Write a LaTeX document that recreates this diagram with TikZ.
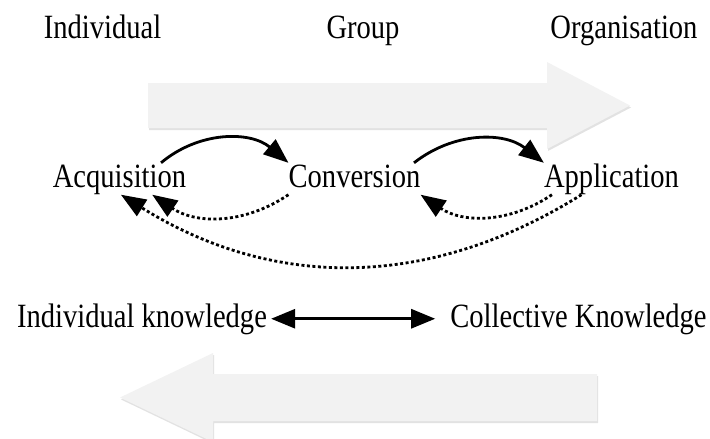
\documentclass[tikz,border=0pt]{standalone}
\usepackage{fontspec}
\setmainfont{Liberation Serif}
\usetikzlibrary{arrows.meta,shadows}

\definecolor{arrowgray}{HTML}{F2F2F2}
\newcommand{\lbltext}[1]{\scalebox{0.84}[1]{#1}}

\tikzset{
  lbl/.style={font=\fontsize{34}{40}\selectfont, inner sep=0pt,
    text height=24pt, text depth=7.5pt, anchor=base},
  bigarrow/.style={fill=arrowgray, draw=none,
    drop shadow={shadow xshift=1pt, shadow yshift=-2pt, opacity=0.25, fill=black!45}},
  flowtip/.style={-{Triangle[length=25pt,width=19pt]}},
  flow/.style={flowtip, line width=2.8pt},
  back/.style={flowtip, line width=2.8pt, dash pattern=on 3pt off 2.5pt}
}

\begin{document}
\begin{tikzpicture}[x=1pt, y=-1pt]
  \useasboundingbox (0,0) rectangle (710,439);

  % --- levels
  \node[lbl] (indiv) at (102.5,38) {\lbltext{Individual}};
  \node[lbl] (group) at (363,38) {\lbltext{Group}};
  \node[lbl] (org)   at (624,38) {\lbltext{Organisation}};

  % --- wide arrows
  \path[bigarrow] (148,83) -- (547,83) -- (547,62) -- (630,105.5)
    -- (547,149) -- (547,128) -- (148,128) -- cycle;
  \path[bigarrow] (597,374) -- (213,374) -- (213,353) -- (120,397.5)
    -- (213,442) -- (213,421) -- (597,421) -- cycle;

  % --- process steps
  \node[lbl] (acq)  at (119.5,187) {\lbltext{Acquisition}};
  \node[lbl] (conv) at (354.5,187) {\lbltext{Conversion}};
  \node[lbl] (app)  at (611.5,187) {\lbltext{Application}};

  \draw[flow] (acq.21) to[bend left=40] (conv.north west);
  \draw[flow] (conv.15) to[bend left=38] (app.north west);
  \draw[back] (conv.south west) to[bend left=34] (acq.-26);
  \draw[back] (app.195) to[bend left=34] (conv.south east);
  \draw[back] (app.-152) to[bend left=32] (acq.-85);

  % --- knowledge
  \node[lbl] (ik) at (142,327) {\lbltext{Individual knowledge}};
  \node[lbl] (ck) at (578.5,327) {\lbltext{Collective Knowledge}};
  \draw[{Triangle[length=24pt,width=19pt]}-{Triangle[length=24pt,width=19pt]}, line width=2.8pt]
    ([xshift=4pt]ik.east) -- ([xshift=-15pt]ck.west);
\end{tikzpicture}
\end{document}
